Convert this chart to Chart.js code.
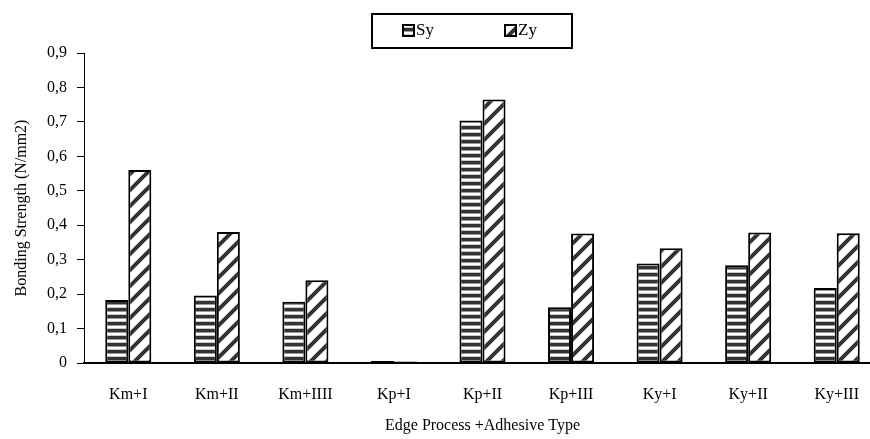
<!DOCTYPE html>
<html>
<head>
<meta charset="utf-8">
<script src="https://cdn.jsdelivr.net/npm/chart.js@4.4.0/dist/chart.umd.min.js"></script>
<style>
  body { margin: 0; overflow: hidden; background: #fff; }
  #contenedor { width: 882px; height: 439px; }
</style>
</head>
<body>
<div id="contenedor"><canvas id="grafico"></canvas></div>
<script>
// Datos
var categorias = ['Km+I', 'Km+II', 'Km+IIII', 'Kp+I', 'Kp+II', 'Kp+III', 'Ky+I', 'Ky+II', 'Ky+III'];
var valoresSy = [0.183, 0.196, 0.178, 0.006, 0.704, 0.162, 0.289, 0.284, 0.218];
var valoresZy = [0.560, 0.380, 0.240, 0.004, 0.765, 0.376, 0.333, 0.379, 0.377];
var ticksY = [0, 0.1, 0.2, 0.3, 0.4, 0.5, 0.6, 0.7, 0.8, 0.9];

var fuente = '"Liberation Serif", "Times New Roman", serif';

// Trama de rayas horizontales (Sy)
function rayasHorizontales() {
  var c = document.createElement('canvas');
  c.width = 8; c.height = 7;
  var g = c.getContext('2d');
  g.fillStyle = '#ffffff'; g.fillRect(0, 0, 8, 7);
  g.fillStyle = '#333333'; g.fillRect(0, 0, 8, 3);
  g.fillStyle = '#9a9a9a'; g.fillRect(0, 3, 8, 1);
  g.fillStyle = '#c8c8c8'; g.fillRect(0, 6, 8, 1);
  return g.createPattern(c, 'repeat');
}

// Trama diagonal "/" (Zy)
function rayasDiagonales() {
  var n = 16;
  var c = document.createElement('canvas');
  c.width = n; c.height = n;
  var g = c.getContext('2d');
  g.fillStyle = '#ffffff'; g.fillRect(0, 0, n, n);
  g.strokeStyle = '#333333';
  g.lineWidth = 4;
  g.beginPath();
  g.moveTo(0, n); g.lineTo(n, 0);
  g.moveTo(-n / 2, n / 2); g.lineTo(n / 2, -n / 2);
  g.moveTo(n / 2, n * 1.5); g.lineTo(n * 1.5, n / 2);
  g.stroke();
  return g.createPattern(c, 'repeat');
}

var tramaSy = rayasHorizontales();
var tramaZy = rayasDiagonales();

// Leyenda con recuadro, como en el original
var leyendaRecuadro = {
  id: 'leyendaRecuadro',
  afterDraw: function(chart) {
    var ctx = chart.ctx;
    ctx.save();
    ctx.strokeStyle = '#000';
    ctx.lineWidth = 2;
    ctx.strokeRect(372, 14, 200, 34);
    var posX = [403, 505];
    chart.data.datasets.forEach(function(ds, i) {
      ctx.fillStyle = ds.backgroundColor;
      ctx.fillRect(posX[i], 25, 11, 11);
      ctx.lineWidth = 2;
      ctx.strokeRect(posX[i], 25, 11, 11);
      ctx.fillStyle = '#000';
      ctx.font = '17px ' + fuente;
      ctx.textBaseline = 'middle';
      ctx.fillText(ds.label, posX[i] + 13, 31);
    });
    ctx.restore();
  }
};

Chart.defaults.font.family = fuente;
Chart.defaults.color = '#000';

var grafico = new Chart(document.getElementById('grafico').getContext('2d'), {
  type: 'bar',
  data: {
    labels: categorias,
    datasets: [
      {
        label: 'Sy',
        data: valoresSy,
        backgroundColor: tramaSy,
        borderColor: '#000',
        borderWidth: 2,
        borderSkipped: false
      },
      {
        label: 'Zy',
        data: valoresZy,
        backgroundColor: tramaZy,
        borderColor: '#000',
        borderWidth: 2,
        borderSkipped: false
      }
    ]
  },
  options: {
    responsive: true,
    maintainAspectRatio: false,
    animation: false,
    layout: { padding: { top: 53, right: 1, bottom: 0, left: 0 } },
    datasets: { bar: { categoryPercentage: 0.52, barPercentage: 1.0 } },
    plugins: {
      legend: { display: false },
      tooltip: { enabled: false }
    },
    scales: {
      x: {
        grid: { display: false },
        border: { display: true, color: '#000', width: 2 },
        ticks: { font: { size: 16 }, padding: 14, maxRotation: 0 },
        title: {
          display: true,
          text: 'Edge Process +Adhesive Type',
          font: { size: 16 },
          padding: { top: 4, bottom: 4 }
        },
        afterFit: function(scale) { scale.height = 76; }
      },
      y: {
        min: 0,
        max: 0.9,
        afterBuildTicks: function(scale) {
          scale.ticks = ticksY.map(function(v) { return { value: v }; });
        },
        grid: { display: true, drawOnChartArea: false, drawTicks: true, tickLength: 7, color: '#000' },
        border: { display: true, color: '#000', width: 1 },
        ticks: {
          font: { size: 16 },
          padding: 10,
          callback: function(v) { return v === 0 ? '0' : v.toFixed(1).replace('.', ','); }
        },
        title: {
          display: true,
          text: 'Bonding Strength (N/mm2)',
          font: { size: 16 },
          padding: { top: 12, bottom: 0 }
        },
        afterFit: function(scale) { scale.width = 84; }
      }
    }
  },
  plugins: [leyendaRecuadro]
});
</script>
</body>
</html>
